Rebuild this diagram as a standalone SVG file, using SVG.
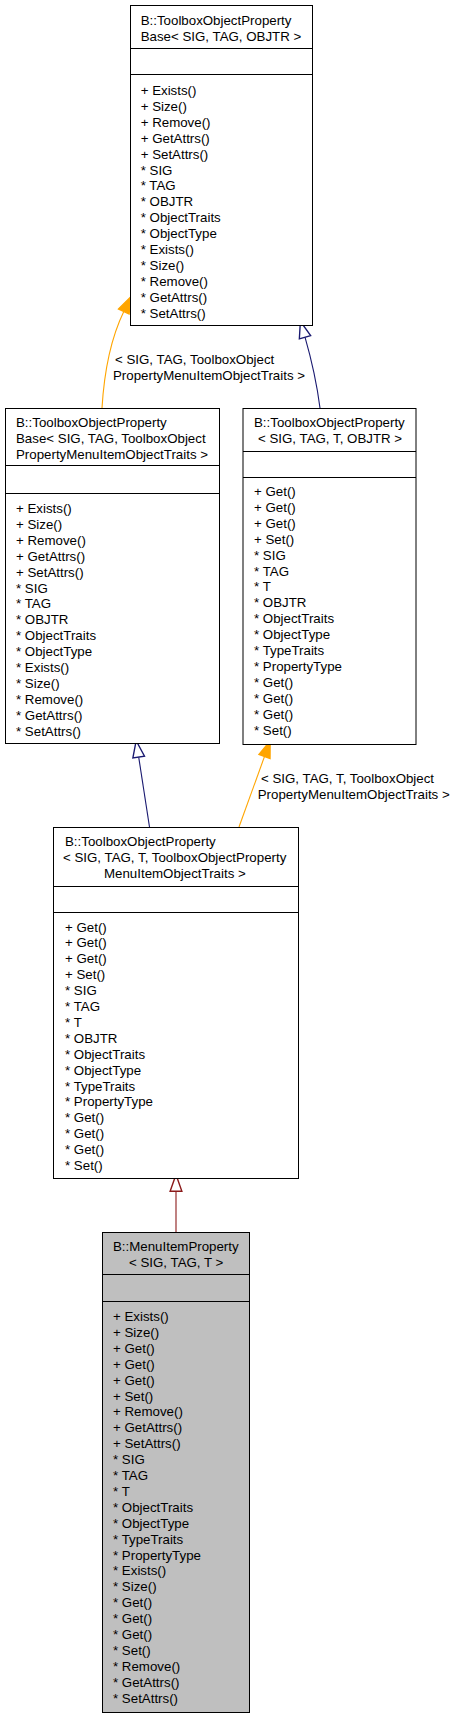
<svg xmlns="http://www.w3.org/2000/svg" width="455" height="1720" viewBox="0 0 455 1720">
<style>
text{font-family:"Liberation Sans",Arial,Helvetica,sans-serif;font-size:13.3px;fill:#000}
.box{fill:#fff;stroke:#000;stroke-width:1}
.cur{fill:#bfbfbf;stroke:#000;stroke-width:1}
.div{stroke:#000;stroke-width:1}
.e{fill:none;stroke-width:1.1}
</style>
<defs>
<marker id="hb" markerUnits="userSpaceOnUse" orient="auto" refX="0" refY="0" markerWidth="20" markerHeight="20" viewBox="-1 -6 16 12" overflow="visible"><path d="M0,-4.7 L13.3,0 L0,4.7 Z" fill="#fff" stroke="#191970" stroke-width="1.1"/></marker>
<marker id="hr" markerUnits="userSpaceOnUse" orient="auto" refX="0" refY="0" markerWidth="20" markerHeight="20" viewBox="-1 -6 16 12" overflow="visible"><path d="M0,-4.7 L13.3,0 L0,4.7 Z" fill="#fff" stroke="#8b1a1a" stroke-width="1.1"/></marker>
<marker id="fo" markerUnits="userSpaceOnUse" orient="auto" refX="0" refY="0" markerWidth="20" markerHeight="20" viewBox="-1 -6 16 12" overflow="visible"><path d="M0,-4.7 L13.3,0 L0,4.7 Z" fill="#ffa500" stroke="#ffa500" stroke-width="1.1"/></marker>
</defs>

<g id="edges">
<path class="e" stroke="#ffa500" d="M102,408 C104,375 110,340 123.8,311.5" marker-end="url(#fo)"/>
<text x="115" y="364">&lt; SIG, TAG, ToolboxObject</text>
<text x="113" y="380">PropertyMenuItemObjectTraits &gt;</text>
<path class="e" stroke="#191970" d="M320,408 C317,385 311,358 305,337.2" marker-end="url(#hb)"/>
<path class="e" stroke="#191970" d="M149.5,827 L138.7,757.1" marker-end="url(#hb)"/>
<path class="e" stroke="#ffa500" d="M239,827 L264.5,756.5" marker-end="url(#fo)"/>
<text x="261" y="783">&lt; SIG, TAG, T, ToolboxObject</text>
<text x="257.7" y="799">PropertyMenuItemObjectTraits &gt;</text>
<path class="e" stroke="#8b1a1a" d="M176,1232 L176,1191.3" marker-end="url(#hr)"/>
</g>

<g id="node_base">
<rect class="box" x="130.5" y="5.5" width="182" height="320"/>
<line class="div" x1="130.5" y1="48.5" x2="312.5" y2="48.5"/>
<line class="div" x1="130.5" y1="74.5" x2="312.5" y2="74.5"/>
<text x="140.7" y="25">B::ToolboxObjectProperty</text>
<text x="140.7" y="41">Base&lt; SIG, TAG, OBJTR &gt;</text>
<text x="140.7" y="95"><tspan x="140.7" dy="0">+ Exists()</tspan><tspan x="140.7" dy="15.9">+ Size()</tspan><tspan x="140.7" dy="15.9">+ Remove()</tspan><tspan x="140.7" dy="15.9">+ GetAttrs()</tspan><tspan x="140.7" dy="15.9">+ SetAttrs()</tspan><tspan x="140.7" dy="15.9">* SIG</tspan><tspan x="140.7" dy="15.9">* TAG</tspan><tspan x="140.7" dy="15.9">* OBJTR</tspan><tspan x="140.7" dy="15.9">* ObjectTraits</tspan><tspan x="140.7" dy="15.9">* ObjectType</tspan><tspan x="140.7" dy="15.9">* Exists()</tspan><tspan x="140.7" dy="15.9">* Size()</tspan><tspan x="140.7" dy="15.9">* Remove()</tspan><tspan x="140.7" dy="15.9">* GetAttrs()</tspan><tspan x="140.7" dy="15.9">* SetAttrs()</tspan></text>
</g>

<g id="node_base_menuitem">
<rect class="box" x="5.5" y="408.5" width="214" height="335"/>
<line class="div" x1="5.5" y1="465.5" x2="219.5" y2="465.5"/>
<line class="div" x1="5.5" y1="493.5" x2="219.5" y2="493.5"/>
<text x="16" y="427">B::ToolboxObjectProperty</text>
<text x="16" y="443">Base&lt; SIG, TAG, ToolboxObject</text>
<text x="16" y="459">PropertyMenuItemObjectTraits &gt;</text>
<text x="16" y="513"><tspan x="16" dy="0">+ Exists()</tspan><tspan x="16" dy="15.9">+ Size()</tspan><tspan x="16" dy="15.9">+ Remove()</tspan><tspan x="16" dy="15.9">+ GetAttrs()</tspan><tspan x="16" dy="15.9">+ SetAttrs()</tspan><tspan x="16" dy="15.9">* SIG</tspan><tspan x="16" dy="15.9">* TAG</tspan><tspan x="16" dy="15.9">* OBJTR</tspan><tspan x="16" dy="15.9">* ObjectTraits</tspan><tspan x="16" dy="15.9">* ObjectType</tspan><tspan x="16" dy="15.9">* Exists()</tspan><tspan x="16" dy="15.9">* Size()</tspan><tspan x="16" dy="15.9">* Remove()</tspan><tspan x="16" dy="15.9">* GetAttrs()</tspan><tspan x="16" dy="15.9">* SetAttrs()</tspan></text>
</g>

<g id="node_property">
<rect class="box" x="243" y="408.5" width="173" height="336"/>
<line class="div" x1="243" y1="451.5" x2="416" y2="451.5"/>
<line class="div" x1="243" y1="477.5" x2="416" y2="477.5"/>
<text x="254" y="427">B::ToolboxObjectProperty</text>
<text x="258" y="443">&lt; SIG, TAG, T, OBJTR &gt;</text>
<text x="254" y="496"><tspan x="254" dy="0">+ Get()</tspan><tspan x="254" dy="15.9">+ Get()</tspan><tspan x="254" dy="15.9">+ Get()</tspan><tspan x="254" dy="15.9">+ Set()</tspan><tspan x="254" dy="15.9">* SIG</tspan><tspan x="254" dy="15.9">* TAG</tspan><tspan x="254" dy="15.9">* T</tspan><tspan x="254" dy="15.9">* OBJTR</tspan><tspan x="254" dy="15.9">* ObjectTraits</tspan><tspan x="254" dy="15.9">* ObjectType</tspan><tspan x="254" dy="15.9">* TypeTraits</tspan><tspan x="254" dy="15.9">* PropertyType</tspan><tspan x="254" dy="15.9">* Get()</tspan><tspan x="254" dy="15.9">* Get()</tspan><tspan x="254" dy="15.9">* Get()</tspan><tspan x="254" dy="15.9">* Set()</tspan></text>
</g>

<g id="node_property_menuitem">
<rect class="box" x="53.5" y="827.5" width="245" height="351"/>
<line class="div" x1="53.5" y1="886.5" x2="298.5" y2="886.5"/>
<line class="div" x1="53.5" y1="912.5" x2="298.5" y2="912.5"/>
<text x="65" y="846">B::ToolboxObjectProperty</text>
<text x="63" y="862">&lt; SIG, TAG, T, ToolboxObjectProperty</text>
<text x="104" y="877.5">MenuItemObjectTraits &gt;</text>
<text x="65" y="931.5"><tspan x="65" dy="0">+ Get()</tspan><tspan x="65" dy="15.9">+ Get()</tspan><tspan x="65" dy="15.9">+ Get()</tspan><tspan x="65" dy="15.9">+ Set()</tspan><tspan x="65" dy="15.9">* SIG</tspan><tspan x="65" dy="15.9">* TAG</tspan><tspan x="65" dy="15.9">* T</tspan><tspan x="65" dy="15.9">* OBJTR</tspan><tspan x="65" dy="15.9">* ObjectTraits</tspan><tspan x="65" dy="15.9">* ObjectType</tspan><tspan x="65" dy="15.9">* TypeTraits</tspan><tspan x="65" dy="15.9">* PropertyType</tspan><tspan x="65" dy="15.9">* Get()</tspan><tspan x="65" dy="15.9">* Get()</tspan><tspan x="65" dy="15.9">* Get()</tspan><tspan x="65" dy="15.9">* Set()</tspan></text>
</g>

<g id="node_menuitemproperty">
<rect class="cur" x="102.5" y="1232.5" width="147" height="480"/>
<line class="div" x1="102.5" y1="1274.5" x2="249.5" y2="1274.5"/>
<line class="div" x1="102.5" y1="1301.5" x2="249.5" y2="1301.5"/>
<text x="113" y="1251">B::MenuItemProperty</text>
<text x="129" y="1266.5">&lt; SIG, TAG, T &gt;</text>
<text x="113" y="1321"><tspan x="113" dy="0">+ Exists()</tspan><tspan x="113" dy="15.9">+ Size()</tspan><tspan x="113" dy="15.9">+ Get()</tspan><tspan x="113" dy="15.9">+ Get()</tspan><tspan x="113" dy="15.9">+ Get()</tspan><tspan x="113" dy="15.9">+ Set()</tspan><tspan x="113" dy="15.9">+ Remove()</tspan><tspan x="113" dy="15.9">+ GetAttrs()</tspan><tspan x="113" dy="15.9">+ SetAttrs()</tspan><tspan x="113" dy="15.9">* SIG</tspan><tspan x="113" dy="15.9">* TAG</tspan><tspan x="113" dy="15.9">* T</tspan><tspan x="113" dy="15.9">* ObjectTraits</tspan><tspan x="113" dy="15.9">* ObjectType</tspan><tspan x="113" dy="15.9">* TypeTraits</tspan><tspan x="113" dy="15.9">* PropertyType</tspan><tspan x="113" dy="15.9">* Exists()</tspan><tspan x="113" dy="15.9">* Size()</tspan><tspan x="113" dy="15.9">* Get()</tspan><tspan x="113" dy="15.9">* Get()</tspan><tspan x="113" dy="15.9">* Get()</tspan><tspan x="113" dy="15.9">* Set()</tspan><tspan x="113" dy="15.9">* Remove()</tspan><tspan x="113" dy="15.9">* GetAttrs()</tspan><tspan x="113" dy="15.9">* SetAttrs()</tspan></text>
</g>
</svg>
